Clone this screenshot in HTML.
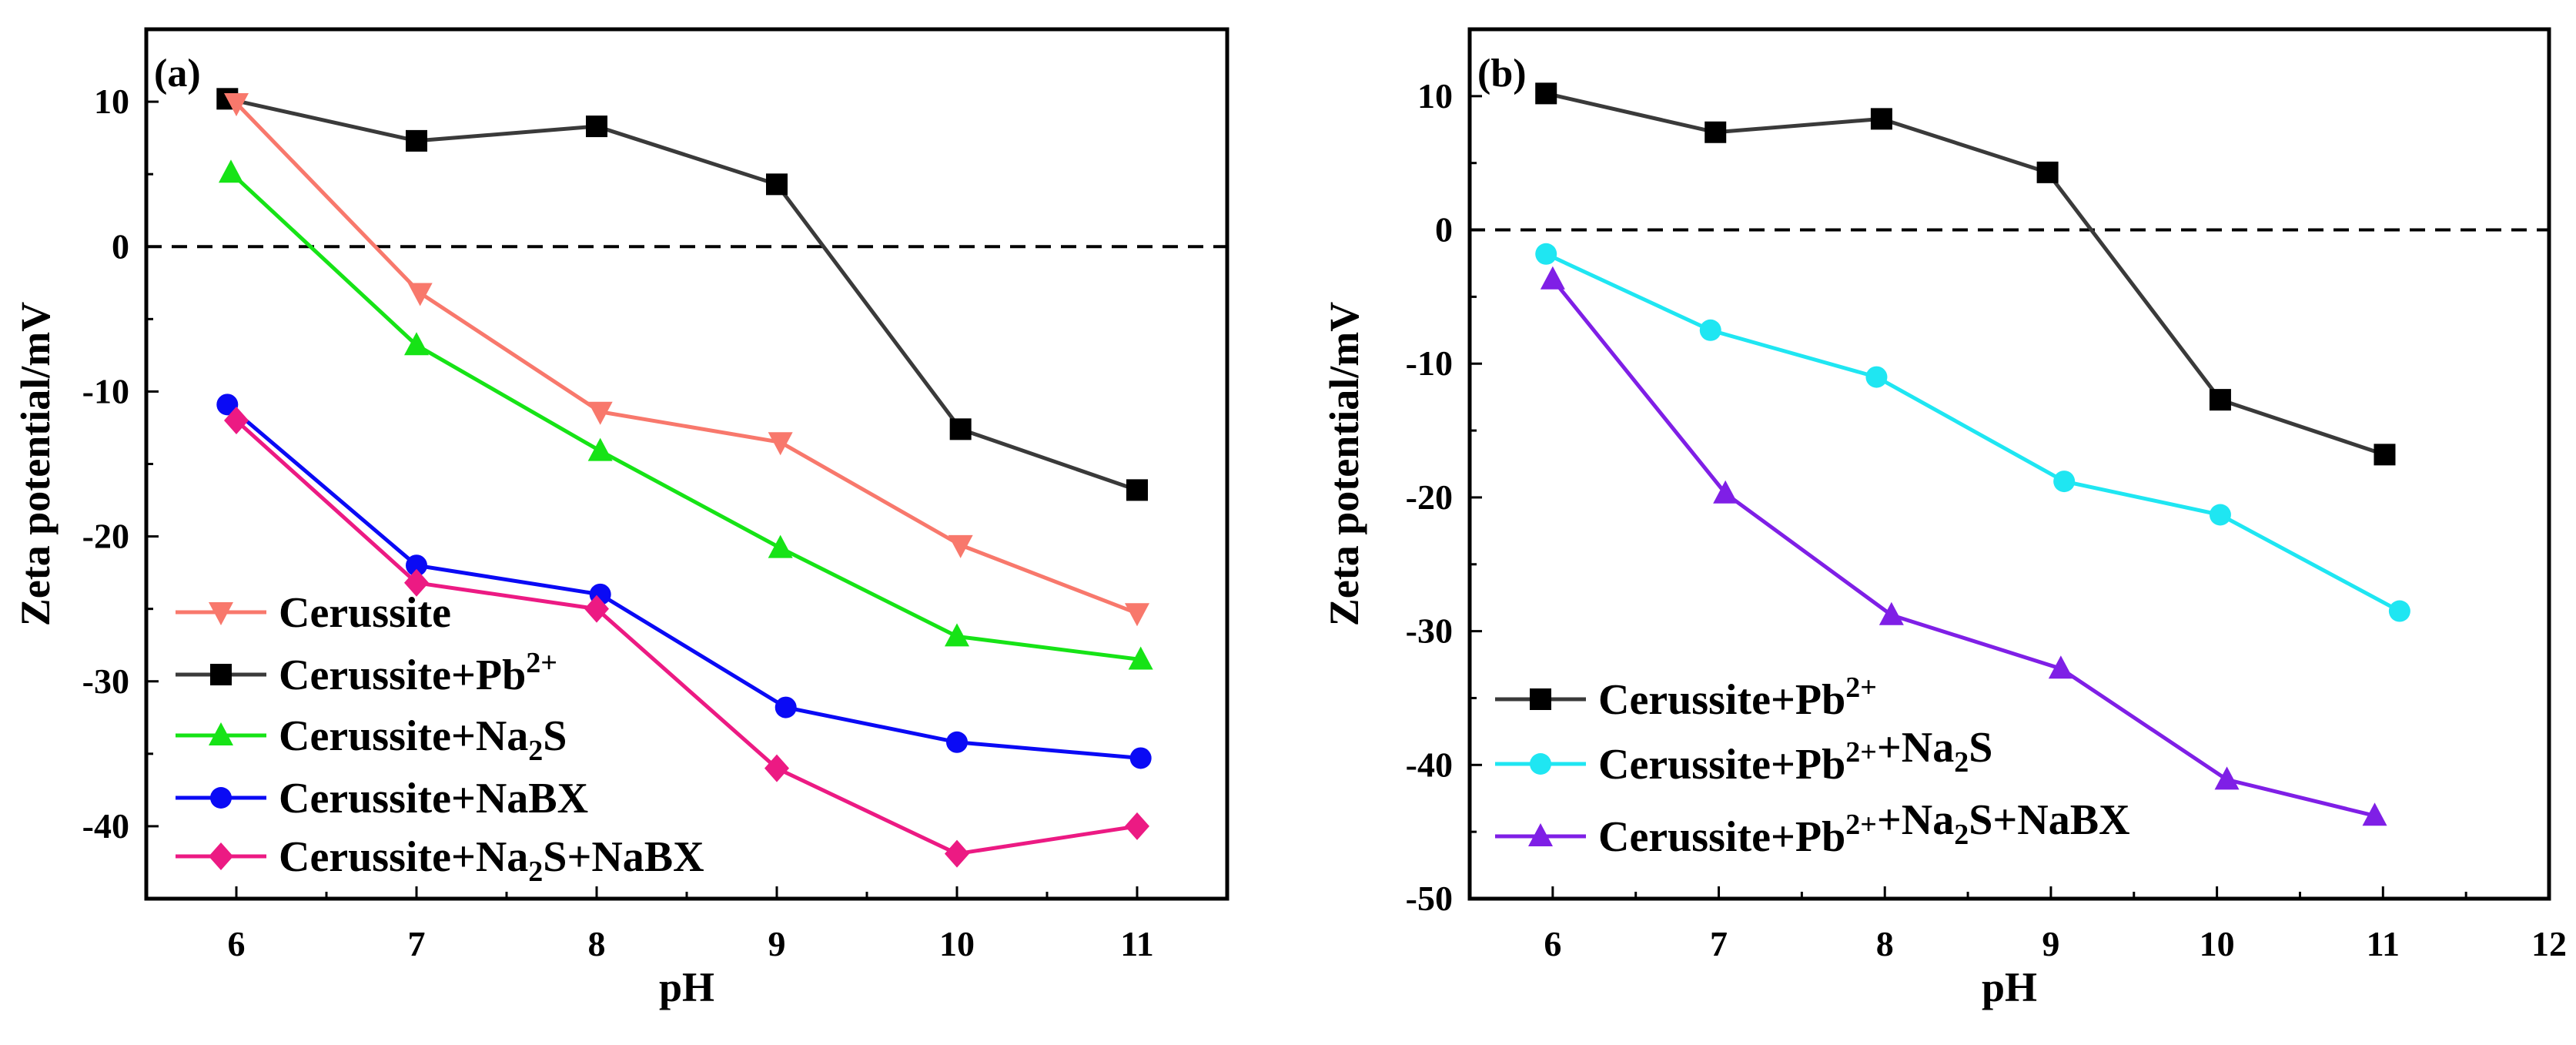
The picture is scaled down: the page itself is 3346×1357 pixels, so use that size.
<!DOCTYPE html>
<html><head><meta charset="utf-8"><style>
html,body{margin:0;padding:0;background:#fff}
svg text{font-family:"Liberation Serif",serif;font-weight:bold;fill:#000}
</style></head><body>
<svg id="c" width="3346" height="1352" xmlns="http://www.w3.org/2000/svg"></svg>
<script>
// Panel (a) data
const aX1=[5.95,7,8,9,10.02,11];
const aPb=[10.2,7.3,8.3,4.3,-12.6,-16.8];
const aCerX=[6,7.02,8.02,9.02,10.02,11];
const aCer=[9.9,-3.2,-11.4,-13.5,-20.6,-25.3];
const aNa2SX=[5.97,7,8.02,9.02,10,11.02];
const aNa2S=[5.1,-6.8,-14.1,-20.8,-26.9,-28.5];
const aNaBXX=[5.95,7,8.02,9.05,10,11.02];
const aNaBX=[-10.9,-22,-24,-31.8,-34.2,-35.3];
const aMixX=[6,7,8,9,10,11];
const aMix=[-12,-23.2,-25,-36,-41.9,-40];
const aXTicks=[6,7,8,9,10,11];
const aYTicks=[-40,-30,-20,-10,0,10];
// Panel (b) data
const bPbX=[5.96,6.98,7.98,8.98,10.02,11.01];
const bPb=[10.2,7.3,8.3,4.3,-12.7,-16.8];
const bNa2SX=[5.96,6.95,7.95,9.08,10.02,11.1];
const bNa2S=[-1.8,-7.5,-11.0,-18.8,-21.3,-28.5];
const bMixX=[6,7.04,8.04,9.06,10.06,10.95];
const bMix=[-3.7,-19.7,-28.8,-32.8,-41.1,-43.8];
const bXTicks=[6,7,8,9,10,11,12];
const bYTicks=[-50,-40,-30,-20,-10,0,10];

const svg=document.getElementById('c');
const NS='http://www.w3.org/2000/svg';
function el(tag,attrs,parent,name){const e=document.createElementNS(NS,tag);for(const k in attrs)e.setAttribute(k,attrs[k]);


(parent||svg).appendChild(e);return e;}

function marker(g,shape,x,y,color,name){
  const s=14;
  if(shape==='square')el('rect',{x:x-s,y:y-s,width:2*s,height:2*s,fill:color},g,name);
  else if(shape==='circle')el('circle',{cx:x,cy:y,r:s,fill:color},g,name);
  else if(shape==='tri')el('polygon',{points:`${x},${y-s-3} ${x-s-2},${y+s-1} ${x+s+2},${y+s-1}`,fill:color},g,name);
  else if(shape==='dtri')el('polygon',{points:`${x},${y+s+3} ${x-s-2},${y-s+1} ${x+s+2},${y-s+1}`,fill:color},g,name);
  else if(shape==='diamond')el('polygon',{points:`${x},${y-s-4} ${x+s+2},${y} ${x},${y+s+4} ${x-s-2},${y}`,fill:color},g,name);
}

function panel(cfg){
  const {L,R,T,B,x0,x1,y0,y1}=cfg;
  const sx=v=>L+(v-x0)/(x1-x0)*(R-L);
  const sy=v=>B-(v-y0)/(y1-y0)*(B-T);
  const g=el('g',{},svg,cfg.name);
  el('line',{x1:L,x2:R,y1:sy(0),y2:sy(0),stroke:'#000','stroke-width':4,'stroke-dasharray':'20 13'},g,'zero-reference-line');
  cfg.xt.forEach(v=>{const x=sx(v);
    el('line',{x1:x,x2:x,y1:B,y2:B-16,stroke:'#000','stroke-width':3},g,'x-major-tick');
    const t=el('text',{x:x,y:B+74,'font-size':46,'text-anchor':'middle'},g,'x-tick-label');t.textContent=v;
    if(v+0.5<x1){const xm=sx(v+0.5);el('line',{x1:xm,x2:xm,y1:B,y2:B-9,stroke:'#000','stroke-width':3},g,'x-minor-tick');}
  });
  cfg.yt.forEach(v=>{const y=sy(v);
    el('line',{x1:L,x2:L+16,y1:y,y2:y,stroke:'#000','stroke-width':3},g,'y-major-tick');
    const t=el('text',{x:L-22,y:y+15,'font-size':46,'text-anchor':'end'},g,'y-tick-label');t.textContent=v;
    if(v+5<y1){const ym=sy(v+5);el('line',{x1:L,x2:L+9,y1:ym,y2:ym,stroke:'#000','stroke-width':3},g,'y-minor-tick');}
  });
  cfg.series.forEach(s=>{
    const sg=el('g',{},g,s.name);
    const pts=s.x.map((xv,i)=>sx(xv)+','+sy(s.y[i])).join(' ');
    el('polyline',{points:pts,fill:'none',stroke:s.line||s.color,'stroke-width':5},sg,s.name+'-line');
    s.x.forEach((xv,i)=>marker(sg,s.shape,sx(xv),sy(s.y[i]),s.color,s.name+'-point'));
  });
  el('rect',{x:L,y:T,width:R-L,height:B-T,fill:'none',stroke:'#000','stroke-width':5},g,'plot-frame');
  let t=el('text',{x:(L+R)/2,y:1300,'font-size':54,'text-anchor':'middle'},g,'x-axis-title');t.textContent='pH';
  t=el('text',{x:0,y:0,'font-size':54,'text-anchor':'middle',transform:`translate(${cfg.ytx},${(T+B)/2}) rotate(-90)`},g,'y-axis-title');t.textContent='Zeta potential/mV';
  t=el('text',{x:L+10,y:T+74,'font-size':52},g,'panel-label');t.textContent=cfg.label;
  cfg.legend.forEach((s,i)=>{
    const y=cfg.legY[i];
    const lg=el('g',{},g,'legend-entry');
    el('line',{x1:cfg.legX,x2:cfg.legX+118,y1:y,y2:y,stroke:s.line||s.color,'stroke-width':5},lg,'legend-line');
    marker(lg,s.shape,cfg.legX+59,y,s.color,'legend-marker');
    const tx=el('text',{x:cfg.legX+134,y:y+19,'font-size':56},lg,'legend-label');
    tx.innerHTML=s.label;
  });
}
const sub=v=>`<tspan dy="13" font-size="38">${v}</tspan><tspan dy="-13">`;
const sup=v=>`<tspan dy="-22" font-size="38">${v}</tspan><tspan dy="22">`;
const P='Pb'+sup('2+')+'</tspan>';
const N='Na'+sub('2')+'S</tspan>';
const sPb={name:'series-cerussite-pb',x:aX1,y:aPb,color:'#000',line:'#3a3a3a',shape:'square',label:'Cerussite+'+P};
const sCer={name:'series-cerussite',x:aCerX,y:aCer,color:'#f8786c',shape:'dtri',label:'Cerussite'};
const sNa={name:'series-cerussite-na2s',x:aNa2SX,y:aNa2S,color:'#16e316',shape:'tri',label:'Cerussite+'+N};
const sBX={name:'series-cerussite-nabx',x:aNaBXX,y:aNaBX,color:'#0a0af5',shape:'circle',label:'Cerussite+NaBX'};
const sMix={name:'series-cerussite-na2s-nabx',x:aMixX,y:aMix,color:'#ec1a83',shape:'diamond',label:'Cerussite+'+N+'+NaBX'};
panel({name:'panel-a',L:190,R:1594,T:38,B:1167,x0:5.5,x1:11.5,y0:-45,y1:15,xt:aXTicks,yt:aYTicks,
  series:[sPb,sCer,sNa,sBX,sMix],legend:[sCer,sPb,sNa,sBX,sMix],legX:228,legY:[795,876,955,1036,1112],ytx:64,label:'(a)'});
const bP={name:'series-b-cerussite-pb',x:bPbX,y:bPb,color:'#000',line:'#3a3a3a',shape:'square',label:'Cerussite+'+P};
const bN={name:'series-b-cerussite-pb-na2s',x:bNa2SX,y:bNa2S,color:'#1fe6f2',shape:'circle',label:'Cerussite+'+P+'+'+N};
const bM={name:'series-b-cerussite-pb-na2s-nabx',x:bMixX,y:bMix,color:'#7f1fe6',shape:'tri',label:'Cerussite+'+P+'+'+N+'+NaBX'};
panel({name:'panel-b',L:1909,R:3311,T:38,B:1167,x0:5.5,x1:12,y0:-50,y1:15,xt:bXTicks,yt:bYTicks,
  series:[bP,bN,bM],legend:[bP,bN,bM],legX:1942,legY:[908,992,1086],ytx:1764,label:'(b)'});
</script>
</body></html>
